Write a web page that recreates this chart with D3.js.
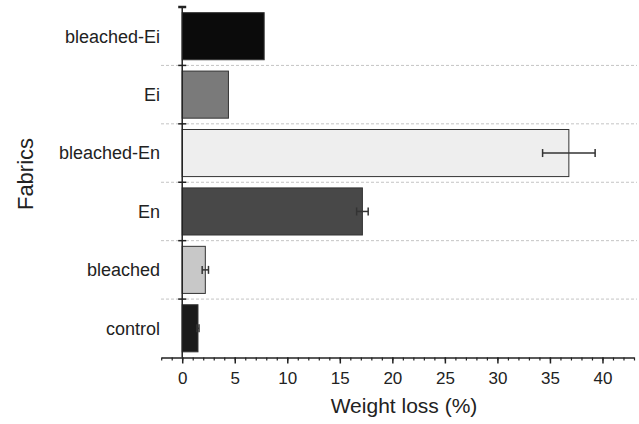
<!DOCTYPE html>
<html>
<head>
<meta charset="utf-8">
<script src="https://cdn.jsdelivr.net/npm/d3@7/dist/d3.min.js"></script>
<style>
  html, body { margin: 0; padding: 0; background: #fff; }
  svg { display: block; }
  text { font-family: "Liberation Sans", Arial, Helvetica, sans-serif; fill: #222; }
</style>
</head>
<body>
<svg id="chart" width="639" height="424"></svg>
<script>
// ---- data (top to bottom) ----
const categories = ["bleached-Ei", "Ei", "bleached-En", "En", "bleached", "control"];
const weightLoss = [7.8, 4.4, 36.8, 17.15, 2.2, 1.5];
const errors     = [0, 0, 2.5, 0.55, 0.3, 0.1];
const fills      = ["#0b0b0b", "#7a7a7a", "#eeeeee", "#484848", "#c8c8c8", "#1a1a1a"];
const majorTicks = [0, 5, 10, 15, 20, 25, 30, 35, 40];
const minorTicks = d3.range(-2, 44, 1);
const xLabel = "Weight loss (%)";
const yLabel = "Fabrics";

const svg = d3.select("#chart");

const x = d3.scaleLinear().domain([-2, 43]).range([161.2, 634]);
const y = d3.scaleBand().domain(categories).range([7, 357.5]).paddingInner(0.194).paddingOuter(0.097);

const step = y.step();
const gap = step * y.paddingInner();

// gridlines at band separators
const seps = categories.slice(1).map(c => y(c) - gap / 2);
svg.append("g").selectAll("line").data(seps).join("line")
  .attr("x1", 161).attr("x2", 637)
  .attr("y1", d => d).attr("y2", d => d)
  .attr("stroke", "#c4c4c4").attr("stroke-width", 1)
  .attr("stroke-dasharray", "3,2");

// bars
svg.append("g").selectAll("rect").data(categories).join("rect")
  .attr("x", x(0))
  .attr("y", d => y(d))
  .attr("width", (d, i) => x(weightLoss[i]) - x(0))
  .attr("height", y.bandwidth())
  .attr("fill", (d, i) => fills[i])
  .attr("stroke", "#333").attr("stroke-width", 1);

// error bars
const eg = svg.append("g").attr("stroke", "#333").attr("stroke-width", 1.5);
categories.forEach((c, i) => {
  if (!errors[i]) return;
  const cy = y(c) + y.bandwidth() / 2;
  const x1 = x(weightLoss[i] - errors[i]), x2 = x(weightLoss[i] + errors[i]);
  eg.append("line").attr("x1", x1).attr("x2", x2).attr("y1", cy).attr("y2", cy);
  eg.append("line").attr("x1", x1).attr("x2", x1).attr("y1", cy - 4).attr("y2", cy + 4);
  eg.append("line").attr("x1", x2).attr("x2", x2).attr("y1", cy - 4).attr("y2", cy + 4);
});

// y axis line + ticks
const ya = svg.append("g").attr("stroke", "#222");
ya.append("line").attr("x1", x(0)).attr("x2", x(0)).attr("y1", y.range()[0]).attr("y2", y.range()[1]).attr("stroke-width", 1.5);
ya.selectAll("line.t").data(seps).join("line").attr("class", "t")
  .attr("x1", x(0) - 4).attr("x2", x(0) + 4).attr("y1", d => d).attr("y2", d => d).attr("stroke-width", 1.5);
ya.append("line").attr("x1", x(0) - 4).attr("x2", x(0) + 4).attr("y1", y.range()[0]).attr("y2", y.range()[0]).attr("stroke-width", 2.5);

// category labels
svg.append("g").selectAll("text").data(categories).join("text")
  .attr("x", 160)
  .attr("y", d => y(d) + y.bandwidth() / 2)
  .attr("dy", "0.35em")
  .attr("text-anchor", "end")
  .attr("font-size", 18)
  .text(d => d);

// x axis
const xAxisY = y.range()[1];
const gMinor = svg.append("g").attr("transform", `translate(0,${xAxisY})`)
  .call(d3.axisBottom(x).tickValues(minorTicks).tickSize(3).tickSizeOuter(0).tickFormat(""));
gMinor.selectAll("line").attr("stroke", "#222").attr("stroke-width", 1.2);
gMinor.select(".domain").attr("stroke", "#222").attr("stroke-width", 1.5);

const gMajor = svg.append("g").attr("transform", `translate(0,${xAxisY})`)
  .call(d3.axisBottom(x).tickValues(majorTicks).tickSize(6).tickSizeOuter(0).tickPadding(8));
gMajor.select(".domain").remove();
gMajor.selectAll("line").attr("stroke", "#222").attr("stroke-width", 1.5);
gMajor.selectAll("text").attr("font-size", 17).attr("font-family", '"Liberation Sans", Arial, sans-serif').attr("fill", "#222");

// axis titles
svg.append("text").attr("x", 404).attr("y", 413).attr("text-anchor", "middle")
  .attr("font-size", 21).text(xLabel);
svg.append("text").attr("transform", "translate(33,174) rotate(-90)").attr("text-anchor", "middle")
  .attr("font-size", 22).text(yLabel);
</script>
</body>
</html>
